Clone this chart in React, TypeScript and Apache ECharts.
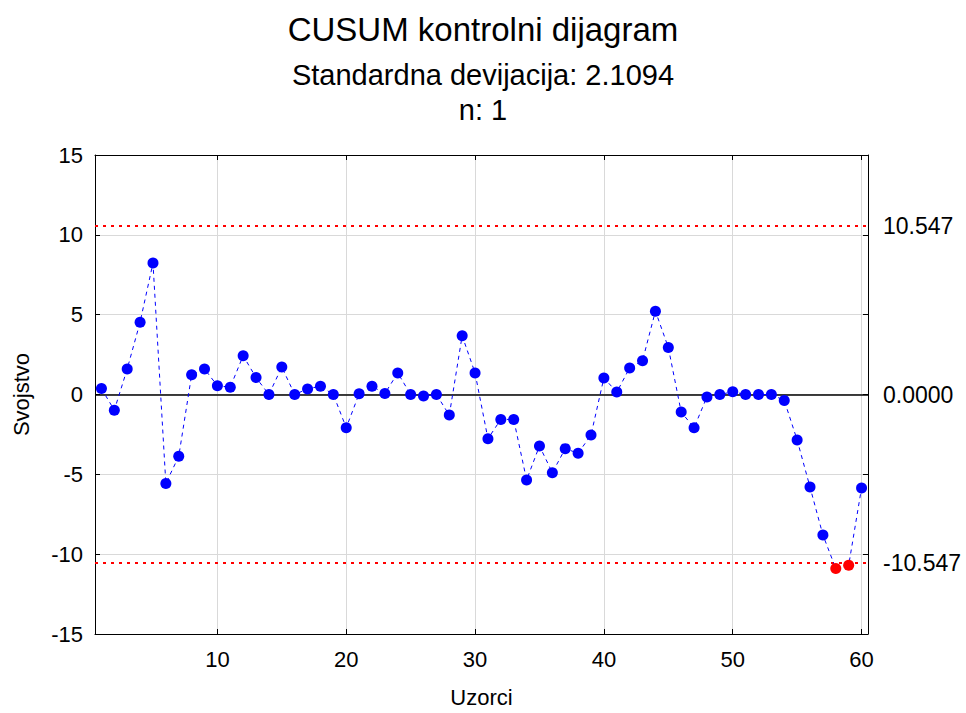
import React, { useEffect, useRef } from "react";
import * as echarts from "echarts";

const titleText = "CUSUM kontrolni dijagram";
const subtitleLines = ["Standardna devijacija: 2.1094", "n: 1"];
const xName = "Uzorci";
const yName = "Svojstvo";

const cusumValues = [
  0.37, -0.98, 1.6, 4.53, 8.23, -5.57, -3.87, 1.23, 1.6, 0.55,
  0.46, 2.43, 1.06, 0.0, 1.72, 0.0, 0.35, 0.52, 0.0, -2.08,
  0.04, 0.52, 0.06, 1.35, 0.0, -0.1, 0.0, -1.29, 3.68, 1.35,
  -2.77, -1.56, -1.56, -5.35, -3.22, -4.9, -3.39, -3.68, -2.54, 1.04,
  0.15, 1.66, 2.12, 5.22, 2.95, -1.1, -2.08, -0.15, 0.0, 0.17,
  0.0, 0.0, 0.0, -0.37, -2.85, -5.8, -8.8, -10.9, -10.7, -5.85,
];

const upperLimit = 10.547;
const centerLine = 0;
const lowerLimit = -10.547;

const xTicks = [10, 20, 30, 40, 50, 60];
const yTicks = [-15, -10, -5, 0, 5, 10, 15];
const rightLabels = [lowerLimit, centerLine, upperLimit];

const FONT = "Liberation Sans, Arial, sans-serif";

export default function App() {
  const ref = useRef<HTMLDivElement>(null);
  useEffect(() => {
    if (!ref.current) return;
    const chart = echarts.init(ref.current, null, { renderer: "svg" });
    const data = cusumValues.map((v, i) => ({
      value: [i + 1, v],
      itemStyle: { color: v > upperLimit || v < lowerLimit ? "#ff0000" : "#0000ff" },
    }));
    chart.setOption({
      animation: false,
      backgroundColor: "#ffffff",
      textStyle: { fontFamily: FONT },
      title: [
        {
          text: titleText,
          left: "center",
          top: 8,
          textStyle: { fontFamily: FONT, fontSize: 33, fontWeight: "normal", color: "#000" },
        },
        {
          text: subtitleLines[0],
          left: "center",
          top: 55,
          textStyle: { fontFamily: FONT, fontSize: 29, fontWeight: "normal", color: "#000" },
        },
        {
          text: subtitleLines[1],
          left: "center",
          top: 90,
          textStyle: { fontFamily: FONT, fontSize: 29, fontWeight: "normal", color: "#000" },
        },
      ],
      grid: { left: 95, right: 98, top: 155, bottom: 77, containLabel: false },
      xAxis: [
        {
          type: "value",
          min: 0.5,
          max: 60.5,
          name: xName,
          nameLocation: "middle",
          nameGap: 52,
          nameTextStyle: { fontFamily: FONT, fontSize: 22, color: "#000" },
          axisLine: { show: true, onZero: false, lineStyle: { color: "#000", width: 1 } },
          axisTick: { show: true, inside: true, length: 5, customValues: xTicks, lineStyle: { color: "#000" } },
          axisLabel: { customValues: xTicks, fontFamily: FONT, fontSize: 22, color: "#000", margin: 14 },
          splitLine: { show: true, lineStyle: { color: "#d9d9d9", width: 1 } },
        },
        {
          type: "value",
          position: "top",
          min: 0.5,
          max: 60.5,
          axisLine: { show: true, onZero: false, lineStyle: { color: "#000", width: 1 } },
          axisTick: { show: true, inside: true, length: 5, customValues: xTicks, lineStyle: { color: "#000" } },
          axisLabel: { show: false },
          splitLine: { show: false },
        },
      ],
      yAxis: [
        {
          type: "value",
          min: -15,
          max: 15,
          interval: 5,
          name: yName,
          nameLocation: "middle",
          nameGap: 63,
          nameRotate: 90,
          nameTextStyle: { fontFamily: FONT, fontSize: 22, color: "#000" },
          axisLine: { show: true, onZero: false, lineStyle: { color: "#000", width: 1 } },
          axisTick: { show: true, inside: true, length: 5, lineStyle: { color: "#000" } },
          axisLabel: { fontFamily: FONT, fontSize: 22, color: "#000", margin: 12 },
          splitLine: { show: true, lineStyle: { color: "#d9d9d9", width: 1 } },
        },
        {
          type: "value",
          position: "right",
          min: -15,
          max: 15,
          axisLine: { show: true, onZero: false, lineStyle: { color: "#000", width: 1 } },
          axisTick: { show: true, inside: true, length: 5, customValues: yTicks, lineStyle: { color: "#000" } },
          axisLabel: {
            customValues: rightLabels,
            fontFamily: FONT,
            fontSize: 23,
            color: "#000",
            margin: 15,
            formatter: (v: number) => (v === 0 ? "0.0000" : v.toFixed(3)),
          },
          splitLine: { show: false },
        },
      ],
      series: [
        {
          type: "line",
          data,
          xAxisIndex: 0,
          yAxisIndex: 0,
          symbol: "circle",
          symbolSize: 11,
          lineStyle: { color: "#0000ff", width: 1, type: [4, 4] },
          itemStyle: { color: "#0000ff" },
          z: 5,
          markLine: {
            silent: true,
            symbol: "none",
            label: { show: false },
            animation: false,
            data: [
              { yAxis: upperLimit, lineStyle: { color: "#ff0000", width: 2, type: [3, 5] } },
              { yAxis: lowerLimit, lineStyle: { color: "#ff0000", width: 2, type: [3, 5] } },
              { yAxis: centerLine, lineStyle: { color: "#000000", width: 1.5, type: "solid" } },
            ],
          },
        },
      ],
    });
    return () => chart.dispose();
  }, []);
  return (
    <div
      ref={ref}
      style={{ position: "absolute", left: 0, top: 0, width: 966, height: 713 }}
    />
  );
}
